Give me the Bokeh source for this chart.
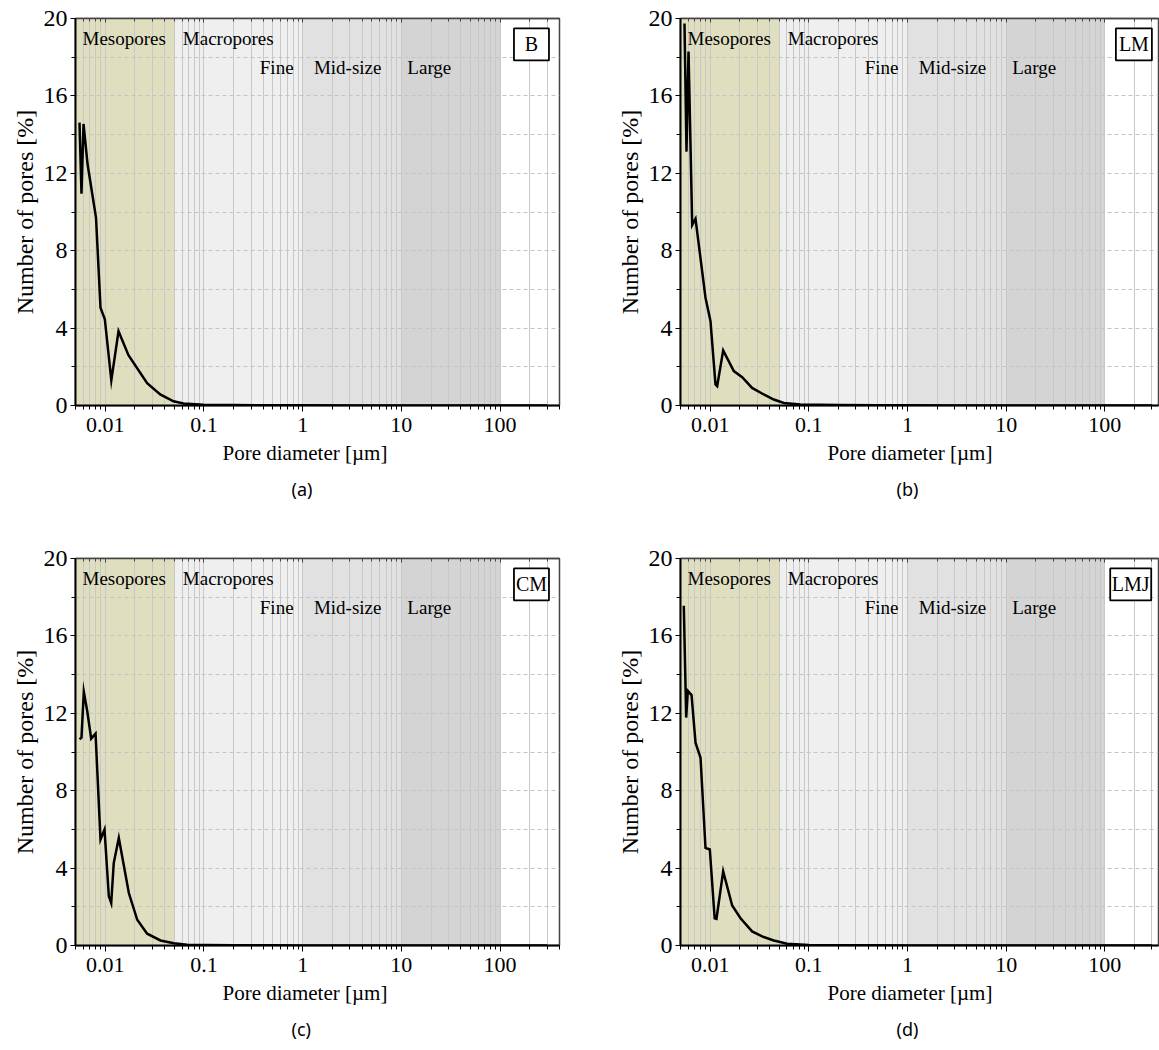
from bokeh.plotting import figure
from bokeh.models import Range1d, FixedTicker, CustomJSTickFormatter, Title, Label, LogAxis
from bokeh.layouts import column, row
from bokeh.embed import file_html
from bokeh.resources import INLINE
from bokeh.core.properties import value

SERIF = "Liberation Serif"
SANS = "Noto Sans"

# ---------------- data ----------------
B_d = [0.00549, 0.00575, 0.00603, 0.00662, 0.00807, 0.00896, 0.00991, 0.01153, 0.01364, 0.0172,
       0.0266, 0.0361, 0.0492, 0.0621, 0.099, 0.2, 0.5, 1.0, 3.0, 10.0, 30.0, 100.0, 300.0]
B_v = [14.62, 10.95, 14.55, 12.48, 9.70, 5.05, 4.46, 1.30, 3.84, 2.60,
       1.15, 0.57, 0.22, 0.10, 0.04, 0.02, 0.01, 0.01, 0.0, 0.0, 0.0, 0.0, 0.0]

LM_d = [0.00549, 0.00575, 0.00603, 0.00657, 0.00710, 0.00896, 0.01007, 0.01131, 0.01177, 0.01354,
        0.01735, 0.0211, 0.0266, 0.0349, 0.0441, 0.0558, 0.0822, 0.2, 0.5, 1.0, 3.0, 10.0, 30.0, 100.0, 300.0]
LM_v = [19.74, 13.12, 18.29, 9.33, 9.65, 5.57, 4.36, 1.09, 1.00, 2.85,
        1.78, 1.46, 0.91, 0.57, 0.31, 0.13, 0.05, 0.02, 0.01, 0.01, 0.0, 0.0, 0.0, 0.0, 0.0]

CM_d = [0.00549, 0.00575, 0.00607, 0.00657, 0.00721, 0.00798, 0.00896, 0.00984, 0.01088, 0.0115,
        0.0122, 0.01373, 0.01735, 0.0211, 0.0266, 0.0363, 0.0495, 0.0676, 0.1, 0.2, 0.5, 1.0, 3.0,
        10.0, 30.0, 100.0, 300.0]
CM_v = [10.66, 10.74, 13.12, 12.12, 10.69, 10.95, 5.48, 5.99, 2.54, 2.19,
        4.26, 5.56, 2.71, 1.33, 0.61, 0.26, 0.12, 0.04, 0.02, 0.01, 0.01, 0.0, 0.0,
        0.0, 0.0, 0.0, 0.0]

LMJ_d = [0.0054, 0.00571, 0.00593, 0.00647, 0.0071, 0.00798, 0.00896, 0.00991, 0.0111, 0.01158,
         0.01354, 0.0167, 0.0203, 0.0266, 0.0336, 0.0441, 0.0603, 0.1, 0.2, 0.5, 1.0, 3.0,
         10.0, 30.0, 100.0, 300.0]
LMJ_v = [17.56, 11.78, 13.16, 12.94, 10.48, 9.70, 5.04, 4.96, 1.41, 1.38,
         3.83, 2.07, 1.41, 0.73, 0.47, 0.26, 0.09, 0.03, 0.01, 0.01, 0.0, 0.0,
         0.0, 0.0, 0.0, 0.0]

# pore-size classes (bands)
band_left = [0.005, 0.05, 1.0, 10.0]
band_right = [0.05, 1.0, 10.0, 100.0]
band_colors = ["#dfdfc0", "#efefef", "#e1e1e1", "#d4d4d4"]

x_major = [0.01, 0.1, 1, 10, 100]
x_minor = [m * 10.0 ** e for e in range(-3, 3) for m in range(2, 10)]
y_major = [0, 4, 8, 12, 16, 20]
y_minor = [2, 6, 10, 14, 18]

X_LABEL = "Pore diameter [µm]"
Y_LABEL = "Number of pores [%]"


def make_panel(d, v, tag, caption, xmax, fw, mb_right, box_x, box_w):
    p = figure(x_axis_type="log", x_range=Range1d(0.005, xmax), y_range=Range1d(0, 20),
               frame_width=fw, frame_height=387, min_border_left=75, min_border_right=mb_right,
               min_border_top=18, min_border_bottom=135, toolbar_location=None,
               output_backend="svg", background_fill_color="white",
               border_fill_color="white", outline_line_color="#444444", outline_line_width=1.5)

    # bands
    p.quad(left=band_left, right=band_right, bottom=0, top=20, fill_color=band_colors,
           line_color=None, level="image")

    # axes
    xa = p.xaxis[0]
    xa.ticker = FixedTicker(ticks=x_major, minor_ticks=x_minor)
    xa.formatter = CustomJSTickFormatter(code="return tick.toString();")
    xa.major_label_text_font = SERIF
    xa.major_label_text_font_size = "22px"
    xa.major_label_text_color = "black"
    xa.major_label_standoff = 6
    xa.major_tick_out = 6
    xa.major_tick_in = 0
    xa.minor_tick_out = 4
    xa.minor_tick_in = 0
    xa.axis_line_width = 2
    xa.axis_line_color = "black"
    xa.major_tick_line_color = "black"
    xa.minor_tick_line_color = "black"

    ya = p.yaxis[0]
    ya.ticker = FixedTicker(ticks=y_major, minor_ticks=y_minor)
    ya.major_label_text_font = SERIF
    ya.major_label_text_font_size = "24px"
    ya.major_label_text_color = "black"
    ya.major_label_standoff = 3
    ya.major_tick_out = 5
    ya.major_tick_in = 0
    ya.minor_tick_out = 4
    ya.minor_tick_in = 0
    ya.axis_line_width = 2
    ya.axis_line_color = "black"
    ya.major_tick_line_color = "black"
    ya.minor_tick_line_color = "black"

    # inward ticks along the top edge
    top = LogAxis(ticker=FixedTicker(ticks=x_major, minor_ticks=x_minor),
                  formatter=CustomJSTickFormatter(code="return ' ';"),
                  major_label_text_font_size="1px", major_label_standoff=0,
                  major_tick_in=4, major_tick_out=0, minor_tick_in=3, minor_tick_out=0,
                  axis_line_color="#444444", axis_line_width=1.5,
                  major_tick_line_color="#444444", minor_tick_line_color="#444444")
    p.add_layout(top, "above")

    # grids
    p.xgrid.grid_line_color = "#c8c8c8"
    p.xgrid.minor_grid_line_color = "#c8c8c8"
    p.xgrid.grid_line_width = 1
    p.ygrid.grid_line_color = "#c4c4c4"
    p.ygrid.grid_line_dash = "4 3"
    p.ygrid.minor_grid_line_color = "#c4c4c4"
    p.ygrid.minor_grid_line_dash = "4 3"

    # curve
    p.line(d, v, line_color="black", line_width=2.5, line_join="miter")

    # region labels
    for tx, ty, tt in [(0.00589, 18.99, "Mesopores"), (0.0611, 18.99, "Macropores"),
                       (0.368, 17.49, "Fine"), (1.30, 17.49, "Mid-size"), (11.5, 17.49, "Large")]:
        p.add_layout(Label(x=tx, y=ty, text=tt, text_font=SERIF, text_font_size="19px",
                           text_baseline="alphabetic", text_align="left", text_color="black"))

    # sample tag box
    p.rect(x=[box_x], y=[18.66], width=box_w, height=32, width_units="screen",
           height_units="screen", fill_color="white", line_color="black", line_width=1.8)
    p.text(x=[box_x], y=[18.66], text=[tag], text_align="center", text_baseline="middle",
           text_font=value(SERIF), text_font_size="20px", text_color="black")

    # y-axis title
    p.add_layout(Title(text=Y_LABEL, align="center", standoff=6,
                       text_font=SERIF, text_font_size="24px", text_font_style="normal",
                       text_color="black"), "left")
    # x-axis title and caption
    p.add_layout(Title(text=X_LABEL, align="left", offset=147, standoff=9,
                       text_font=SERIF, text_font_size="21px", text_font_style="normal",
                       text_color="black"), "below")
    p.add_layout(Title(text=caption, align="left", offset=216, standoff=10,
                       text_font=SANS, text_font_size="18px", text_font_style="normal",
                       text_color="black"), "below")
    return p


pa = make_panel(B_d, B_v, "B", "(a)", 400, 484, 46, 208, 35)
pb = make_panel(LM_d, LM_v, "LM", "(b)", 350, 478, 1, 197, 36)
pc = make_panel(CM_d, CM_v, "CM", "(c)", 400, 484, 46, 208, 35)
pd = make_panel(LMJ_d, LMJ_v, "LMJ", "(d)", 350, 478, 1, 183, 41)

layout = column(row(pa, pb), row(pc, pd))

open("out.html", "w").write(file_html(layout, INLINE))
